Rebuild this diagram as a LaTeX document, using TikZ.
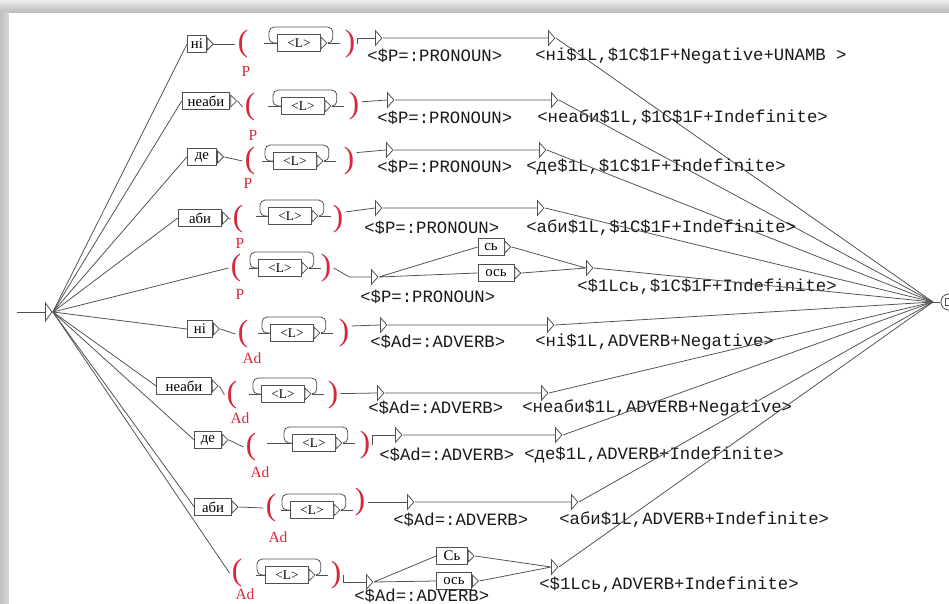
\documentclass[tikz,border=0pt]{standalone}
\usepackage{fontspec}
\setmainfont{Liberation Serif}
\newfontfamily\outfont{Liberation Mono}
\usetikzlibrary{shapes.geometric}

\definecolor{varred}{RGB}{214,40,56}
\definecolor{wiregray}{RGB}{80,80,80}

\tikzset{
  conn/.style={draw=wiregray, line width=0.55pt},
  loopwire/.style={conn, rounded corners=3.5pt},
  wordbox/.style={draw=wiregray, line width=0.6pt, fill=white, inner xsep=2.5pt, inner ysep=0pt,
    minimum height=12pt, font=\fontsize{10.5}{11}\selectfont},
  loopbox/.style={wordbox, minimum width=30pt, font=\fontsize{9.5}{10}\selectfont},
  boxtip/.style={draw=wiregray, line width=0.55pt, fill=white, isosceles triangle,
    isosceles triangle stretches, inner sep=0pt, minimum height=4.2pt, minimum width=8.5pt, anchor=west},
  emptybox/.style={boxtip, minimum height=4.6pt, minimum width=10.5pt},
  paren/.style={text=varred, inner sep=1.5pt, font=\fontsize{22}{22}\selectfont},
  varname/.style={text=varred, inner sep=0pt, font=\fontsize{11}{11}\selectfont},
  outlabel/.style={anchor=west, inner sep=0pt, text=black!90, font=\outfont\fontsize{12.3}{13}\selectfont},
}

\begin{document}
\begin{tikzpicture}[x=0.025cm, y=-0.025cm]
	% Frame:
	\useasboundingbox (0,0) rectangle (949,604);
	\clip (0,0) rectangle (949,604);
	\fill[gray!40] (0,0) rectangle (949,604);
	\shade[top color=gray!15, bottom color=gray!55] (0,0) rectangle (949,13);
	\shade[left color=gray!50, right color=gray!30] (0,13) rectangle (9,604);
	\fill[white] (9,13) rectangle (949,604);

	% Initial and final states:
	\coordinate (entry) at (17,312);
	\node[emptybox, minimum width=13pt] (ini) at (45,312) {};
	\draw[conn] (entry) -- (ini.west);
	\coordinate (join) at (933,302);
	\node[draw=wiregray, line width=0.6pt, fill=white, circle, inner sep=0pt, minimum size=11.5pt] (fin) at (949,302) {};
	\node[draw=wiregray, line width=0.5pt, inner sep=0pt, minimum size=5pt] (finbox) at (fin.center) {};
	\draw[conn] (join) -- (fin.west);

	% Row 1: ni, P
	\node[wordbox] (w1) at (197,44) {ні};
	\node[boxtip] (w1t) at (w1.east) {};
	\node[paren] (lp1) at (243,44) {(};
	\node[varname] (v1) at (246,71) {P};
	\node[loopbox] (l1) at (299,43) {<L>};
	\node[boxtip] (l1t) at (l1.east) {};
	\node[paren] (rp1) at (350,44) {)};
	\node[emptybox] (e1a) at (375,38) {};
	\node[emptybox] (e1b) at (548,38) {};
	\node[outlabel] (o1a) at (367,56) {<\$P=:PRONOUN>};
	\node[outlabel] (o1b) at (535,56) {<ні\$1L,\$1C\$1F+Negative+UNAMB >};
	\draw[conn] (ini.apex) -- (w1.west);
	\draw[conn] (w1t.apex) -- (lp1.west);
	\draw[conn] (l1.west) -- ++(-13,0);
	\draw[conn] (l1t.apex) -- ++(12,0);
	\draw[loopwire] (l1t.apex) -- ++(5,0) |- ([xshift=-6pt,yshift=5pt]l1.north west) |- (l1.west);
	\draw[conn] (rp1.east) |- (e1a.west);
	\draw[conn] (e1a.apex) -- (e1b.west) (e1b.apex) -- (join);

	% Row 2: neaby, P
	\node[wordbox, minimum width=34pt] (w2) at (206,101) {неаби};
	\node[boxtip] (w2t) at (w2.east) {};
	\node[paren] (lp2) at (250,107) {(};
	\node[varname] (v2) at (253,135) {P};
	\node[loopbox] (l2) at (303,106) {<L>};
	\node[boxtip] (l2t) at (l2.east) {};
	\node[paren] (rp2) at (354,106) {)};
	\node[emptybox] (e2a) at (387,100) {};
	\node[emptybox] (e2b) at (551,100) {};
	\node[outlabel] (o2a) at (377,118) {<\$P=:PRONOUN>};
	\node[outlabel] (o2b) at (537,118) {<неаби\$1L,\$1C\$1F+Indefinite>};
	\draw[conn] (ini.apex) -- (w2.west);
	\draw[conn] (w2t.apex) -- (lp2.west);
	\draw[conn] (l2.west) -- ++(-13,0);
	\draw[conn] (l2t.apex) -- ++(12,0);
	\draw[loopwire] (l2t.apex) -- ++(5,0) |- ([xshift=-6pt,yshift=5pt]l2.north west) |- (l2.west);
	\draw[conn] ([yshift=3pt]rp2.east) -- (e2a.west);
	\draw[conn] (e2a.apex) -- (e2b.west) (e2b.apex) -- (join);

	% Row 3: de, P
	\node[wordbox, minimum width=21pt] (w3) at (202,157) {де};
	\node[boxtip] (w3t) at (w3.east) {};
	\node[paren] (lp3) at (250,161) {(};
	\node[varname] (v3) at (248,183) {P};
	\node[loopbox] (l3) at (295,161) {<L>};
	\node[boxtip] (l3t) at (l3.east) {};
	\node[paren] (rp3) at (349,161) {)};
	\node[emptybox] (e3a) at (386,150) {};
	\node[emptybox] (e3b) at (539,150) {};
	\node[outlabel] (o3a) at (377,167) {<\$P=:PRONOUN>};
	\node[outlabel] (o3b) at (526,167) {<де\$1L,\$1C\$1F+Indefinite>};
	\draw[conn] (ini.apex) -- (w3.west);
	\draw[conn] (w3t.apex) -- (lp3.west);
	\draw[conn] (l3.west) -- ++(-11,0);
	\draw[conn] (l3t.apex) -- ++(12,0);
	\draw[loopwire] (l3t.apex) -- ++(5,0) |- ([xshift=-6pt,yshift=5pt]l3.north west) |- (l3.west);
	\draw[conn] ([yshift=6pt]rp3.east) -- (e3a.west);
	\draw[conn] (e3a.apex) -- (e3b.west) (e3b.apex) -- (join);

	% Row 4: aby, P
	\node[wordbox, minimum width=31pt] (w4) at (200,218) {аби};
	\node[boxtip] (w4t) at (w4.east) {};
	\node[paren] (lp4) at (238,219) {(};
	\node[varname] (v4) at (240,243) {P};
	\node[loopbox] (l4) at (290,216) {<L>};
	\node[boxtip] (l4t) at (l4.east) {};
	\node[paren] (rp4) at (338,219) {)};
	\node[emptybox] (e4a) at (375,208) {};
	\node[emptybox] (e4b) at (537,208) {};
	\node[outlabel] (o4a) at (364,228) {<\$P=:PRONOUN>};
	\node[outlabel] (o4b) at (526,228) {<аби\$1L,\$1C\$1F+Indefinite>};
	\draw[conn] (ini.apex) -- (w4.west);
	\draw[conn] (w4t.apex) -- (lp4.west);
	\draw[conn] (l4.west) -- ++(-12,0);
	\draw[conn] (l4t.apex) -- ++(12,0);
	\draw[loopwire] (l4t.apex) -- ++(5,0) |- ([xshift=-6pt,yshift=5pt]l4.north west) |- (l4.west);
	\draw[conn] ([yshift=5pt]rp4.east) -- (e4a.west);
	\draw[conn] (e4a.apex) -- (e4b.west) (e4b.apex) -- (join);

	% Row 5: P with s'/os'
	\node[paren] (lp5) at (236,268) {(};
	\node[varname] (v5) at (240,294) {P};
	\node[loopbox] (l5) at (280,268) {<L>};
	\node[boxtip] (l5t) at (l5.east) {};
	\node[paren] (rp5) at (326,268) {)};
	\node[emptybox] (e5a) at (371,277) {};
	\node[wordbox, minimum width=18.5pt] (c5) at (491,247) {сь};
	\node[boxtip] (c5t) at (c5.east) {};
	\node[wordbox, minimum width=25.6pt] (s5) at (496,273) {ось};
	\node[boxtip] (s5t) at (s5.east) {};
	\node[emptybox] (e5b) at (586,268) {};
	\node[outlabel] (o5a) at (360,297) {<\$P=:PRONOUN>};
	\node[outlabel] (o5b) at (577,287) {<\$1Lсь,\$1C\$1F+Indefinite>};
	\draw[conn] (ini.apex) -- (lp5.west);
	\draw[conn] (l5.west) -- ++(-9,0);
	\draw[conn] (l5t.apex) -- ++(12,0);
	\draw[loopwire] (l5t.apex) -- ++(5,0) |- ([xshift=-6pt,yshift=5pt]l5.north west) |- (l5.west);
	\draw[conn] (rp5.east) -- ++(16,9) -- (e5a.west);
	\draw[conn] (e5a.apex) -- (c5.west) (e5a.apex) -- (s5.west);
	\draw[conn] (c5t.apex) -- (e5b.west) (s5t.apex) -- (e5b.west);
	\draw[conn] (e5b.apex) -- (join);

	% Row 6: ni, Ad
	\node[wordbox, minimum width=18pt] (w6) at (200,329) {ні};
	\node[boxtip] (w6t) at (w6.east) {};
	\node[paren] (lp6) at (243,334) {(};
	\node[varname] (v6) at (252,358) {Ad};
	\node[loopbox] (l6) at (292,333) {<L>};
	\node[boxtip] (l6t) at (l6.east) {};
	\node[paren] (rp6) at (344,333) {)};
	\node[emptybox] (e6a) at (380,325) {};
	\node[emptybox] (e6b) at (547,325) {};
	\node[outlabel] (o6a) at (370,342) {<\$Ad=:ADVERB>};
	\node[outlabel] (o6b) at (535,342) {<ні\$1L,ADVERB+Negative>};
	\draw[conn] (ini.apex) -- (w6.west);
	\draw[conn] (w6t.apex) -- (lp6.west);
	\draw[conn] (l6.west) -- ++(-12,0);
	\draw[conn] (l6t.apex) -- ++(12,0);
	\draw[loopwire] (l6t.apex) -- ++(5,0) |- ([xshift=-6pt,yshift=5pt]l6.north west) |- (l6.west);
	\draw[conn] ([yshift=5pt]rp6.east) -- (e6a.west);
	\draw[conn] (e6a.apex) -- (e6b.west) (e6b.apex) -- (join);

	% Row 7: neaby, Ad
	\node[wordbox, minimum width=39pt] (w7) at (184,386) {неаби};
	\node[boxtip] (w7t) at (w7.east) {};
	\node[paren] (lp7) at (232,395) {(};
	\node[varname] (v7) at (240,418) {Ad};
	\node[loopbox] (l7) at (283,394) {<L>};
	\node[boxtip] (l7t) at (l7.east) {};
	\node[paren] (rp7) at (333,395) {)};
	\node[emptybox] (e7a) at (377,393) {};
	\node[emptybox] (e7b) at (541,393) {};
	\node[outlabel] (o7a) at (368,408) {<\$Ad=:ADVERB>};
	\node[outlabel] (o7b) at (522,408) {<неаби\$1L,ADVERB+Negative>};
	\draw[conn] (ini.apex) -- (w7.west);
	\draw[conn] (w7t.apex) -- (lp7.west);
	\draw[conn] (l7.west) -- ++(-12,0);
	\draw[conn] (l7t.apex) -- ++(12,0);
	\draw[loopwire] (l7t.apex) -- ++(5,0) |- ([xshift=-6pt,yshift=5pt]l7.north west) |- (l7.west);
	\draw[conn] ([yshift=1pt]rp7.east) -- (e7a.west);
	\draw[conn] (e7a.apex) -- (e7b.west) (e7b.apex) -- (join);

	% Row 8: de, Ad
	\node[wordbox, minimum width=19pt] (w8) at (208,440) {де};
	\node[boxtip] (w8t) at (w8.east) {};
	\node[paren] (lp8) at (251,447) {(};
	\node[varname] (v8) at (260,472) {Ad};
	\node[loopbox] (l8) at (314,443) {<L>};
	\node[boxtip] (l8t) at (l8.east) {};
	\node[paren] (rp8) at (365,445) {)};
	\node[emptybox] (e8a) at (395,435) {};
	\node[emptybox] (e8b) at (555,435) {};
	\node[outlabel] (o8a) at (379,455) {<\$Ad=:ADVERB>};
	\node[outlabel] (o8b) at (524,455) {<де\$1L,ADVERB+Indefinite>};
	\draw[conn] (ini.apex) -- (w8.west);
	\draw[conn] (w8t.apex) -- (lp8.west);
	\draw[conn] (l8.west) -- ++(-25,0);
	\draw[conn] (l8t.apex) -- ++(12,0);
	\draw[loopwire] (l8t.apex) -- ++(5,0) |- ([xshift=-6pt,yshift=5pt]l8.north west) |- (l8.west);
	\draw[conn] (rp8.east) |- (e8a.west);
	\draw[conn] (e8a.apex) -- (e8b.west) (e8b.apex) -- (join);

	% Row 9: aby, Ad
	\node[wordbox, minimum width=26pt] (w9) at (213,507) {аби};
	\node[boxtip] (w9t) at (w9.east) {};
	\node[paren] (lp9) at (271,508) {(};
	\node[varname] (v9) at (278,537) {Ad};
	\node[loopbox] (l9) at (312,510) {<L>};
	\node[boxtip] (l9t) at (l9.east) {};
	\node[paren] (rp9) at (360,502) {)};
	\node[emptybox] (e9a) at (407,502) {};
	\node[emptybox] (e9b) at (571,502) {};
	\node[outlabel] (o9a) at (393,520) {<\$Ad=:ADVERB>};
	\node[outlabel] (o9b) at (559,520) {<аби\$1L,ADVERB+Indefinite>};
	\draw[conn] (ini.apex) -- (w9.west);
	\draw[conn] (w9t.apex) -- (lp9.west);
	\draw[conn] (l9.west) -- ++(-9,0);
	\draw[conn] (l9t.apex) -- ++(12,0);
	\draw[loopwire] (l9t.apex) -- ++(5,0) |- ([xshift=-6pt,yshift=5pt]l9.north west) |- (l9.west);
	\draw[conn] (rp9.east) -- (e9a.west);
	\draw[conn] (e9a.apex) -- (e9b.west) (e9b.apex) -- (join);

	% Row 10: Ad with s'/os'
	\node[paren] (lp10) at (237,573) {(};
	\node[varname] (v10) at (245,594) {Ad};
	\node[loopbox] (l10) at (287,575) {<L>};
	\node[boxtip] (l10t) at (l10.east) {};
	\node[paren] (rp10) at (336,575) {)};
	\node[emptybox] (e10a) at (366,582) {};
	\node[wordbox, minimum width=22pt] (c10) at (452,556) {Сь};
	\node[boxtip] (c10t) at (c10.east) {};
	\node[wordbox, minimum width=25pt] (s10) at (454,581) {ось};
	\node[boxtip] (s10t) at (s10.east) {};
	\node[emptybox] (e10b) at (551,567) {};
	\node[outlabel] (o10a) at (354,596) {<\$Ad=:ADVERB>};
	\node[outlabel] (o10b) at (539,585) {<\$1Lсь,ADVERB+Indefinite>};
	\draw[conn] (ini.apex) -- (lp10.west);
	\draw[conn] (l10.west) -- ++(-9,0);
	\draw[conn] (l10t.apex) -- ++(12,0);
	\draw[loopwire] (l10t.apex) -- ++(5,0) |- ([xshift=-6pt,yshift=5pt]l10.north west) |- (l10.west);
	\draw[conn] (rp10.east) |- (e10a.west);
	\draw[conn] (e10a.apex) -- (c10.west) (e10a.apex) -- (s10.west);
	\draw[conn] (c10t.apex) -- (e10b.west) (s10t.apex) -- (e10b.west);
	\draw[conn] (e10b.apex) -- (join);
\end{tikzpicture}
\end{document}
